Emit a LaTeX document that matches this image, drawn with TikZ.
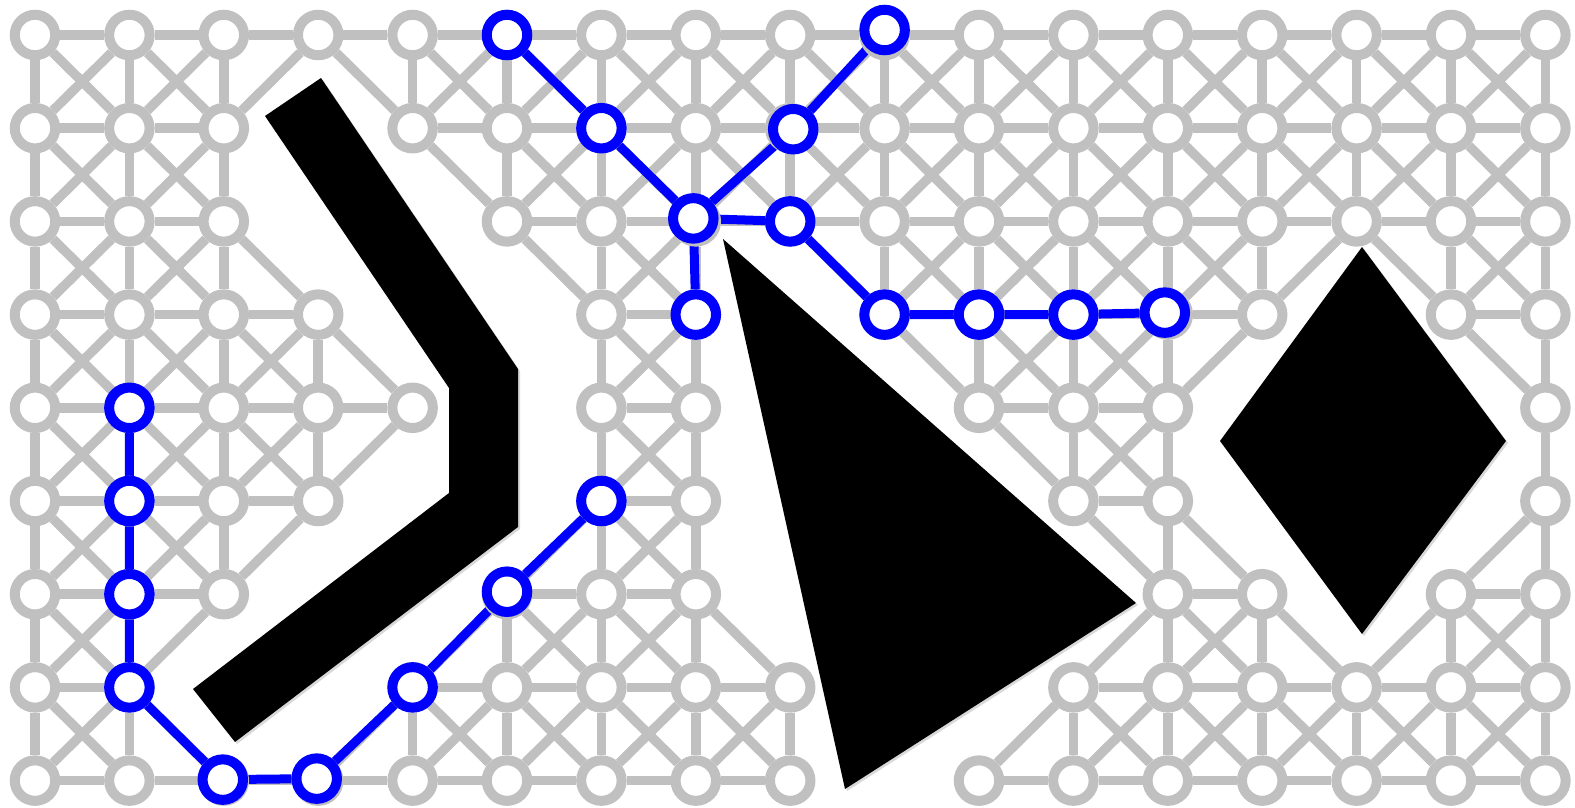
\documentclass[tikz,border=0pt]{standalone}
\usetikzlibrary{shadows,backgrounds}
\definecolor{road}{RGB}{192,192,192}
\definecolor{tree}{RGB}{0,0,255}
\tikzset{
  site/.style={circle,draw=road,fill=white,line width=10pt,minimum size=40.5pt,inner sep=0pt},
  pick/.style={site,draw=tree,drop shadow={opacity=0.35,shadow xshift=1.5pt,shadow yshift=-1.5pt}},
  link/.style={draw=road,line width=9.5pt},
  branch/.style={draw=tree,line width=9pt},
  block/.style={fill=black,drop shadow={opacity=0.3,shadow xshift=2pt,shadow yshift=-2pt}},
}
% gray link only when the second site exists and the pair is not blocked
\newcommand\linkif[2]{%
  \ifcsname pgf@sh@ns@#2\endcsname
    \ifcsname noline@#1@#2\endcsname\else\draw[link] (#1) -- (#2);\fi
  \fi}
\expandafter\def\csname noline@g-8-2@g-7-3\endcsname{}

\begin{document}
\begin{tikzpicture}[x=1pt,y=-1pt]
  \useasboundingbox (0,0) rectangle (1575,808);
  % free sites of the grid, row by row
  \foreach \j/\cols in {0/{0,1,2,3,4,5,6,7,8,9,10,11,12,13,14,15,16},
                        1/{0,1,2,4,5,6,7,8,9,10,11,12,13,14,15,16},
                        2/{0,1,2,5,6,7,8,9,10,11,12,13,14,15,16},
                        3/{0,1,2,3,6,7,9,10,11,12,13,15,16},
                        4/{0,1,2,3,4,6,7,10,11,12,16},
                        5/{0,1,2,3,6,7,11,12,16},
                        6/{0,1,2,5,6,7,12,13,15,16},
                        7/{0,1,4,5,6,7,8,11,12,13,14,15,16},
                        8/{0,1,2,3,4,5,6,7,8,10,11,12,13,14,15,16}}
    \foreach \i in \cols
      \node[site] (g-\i-\j) at ({35+94.4*\i},{35+93.2*\j}) {};
  % sites picked by the search
  \foreach \n/\s in {5-0/{0,0},6-1/{0,0},7-2/{-2.5,-3},8-1/{3,1},9-0/{0,-5},
                     8-2/{0,0},7-3/{0,0},9-3/{0,0},10-3/{0,0},11-3/{0,0},12-3/{-3,-2},
                     1-4/{0,0},1-5/{0,0},1-6/{0,0},1-7/{0,0},2-8/{-1,-1},3-8/{-1.5,-2},
                     4-7/{0,0},5-6/{0,-2.5},6-5/{0,0}}
    \node[pick] (t-\n) at ([shift={(\s)}]g-\n) {};
  \begin{scope}[on background layer]
    \foreach \j in {0,...,8}
      \foreach \i in {0,...,16} {
        \ifcsname pgf@sh@ns@g-\i-\j\endcsname
          \pgfmathtruncatemacro\ir{\i+1}
          \pgfmathtruncatemacro\il{\i-1}
          \pgfmathtruncatemacro\jd{\j+1}
          \linkif{g-\i-\j}{g-\ir-\j}
          \linkif{g-\i-\j}{g-\i-\jd}
          \linkif{g-\i-\j}{g-\ir-\jd}
          \linkif{g-\i-\j}{g-\il-\jd}
        \fi
      }
    \draw[branch] (t-5-0) -- (t-6-1) -- (t-7-2) -- (t-8-2) -- (t-9-3) -- (t-10-3) -- (t-11-3) -- (t-12-3);
    \draw[branch] (t-7-2) -- (t-8-1) -- (t-9-0);
    \draw[branch] (t-7-2) -- (t-7-3);
    \draw[branch] (t-1-4) -- (t-1-5) -- (t-1-6) -- (t-1-7) -- (t-2-8) -- (t-3-8) -- (t-4-7) -- (t-5-6) -- (t-6-5);
  \end{scope}
  % obstacles
  \fill[block] (265,116) -- (321,78) -- (518,369) -- (518,527) -- (235,742) -- (193,689) -- (449,493) -- (449,388) -- cycle;
  \fill[block] (723,239) -- (1136,603) -- (845,789) -- cycle;
  \fill[block] (1362,247) -- (1506,441) -- (1362,634) -- (1220,441) -- cycle;
\end{tikzpicture}
\end{document}
